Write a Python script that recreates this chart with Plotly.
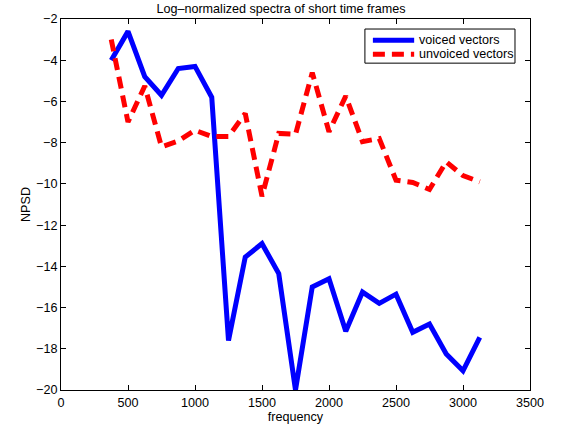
import plotly.graph_objects as go

freq = [375, 500, 625, 750, 875, 1000, 1125, 1250, 1375, 1500, 1625, 1750,
        1875, 2000, 2125, 2250, 2375, 2500, 2625, 2750, 2875, 3000, 3125]
voiced = [-4.0, -2.6, -4.8, -5.7, -4.4, -4.3, -5.8, -17.6, -13.55, -12.9, -14.35, -20.0,
          -15.0, -14.6, -17.15, -15.25, -15.8, -15.35, -17.2, -16.8, -18.25, -19.07, -17.45]
unvoiced = [-3.0, -7.0, -5.25, -8.2, -7.92, -7.4, -7.7, -7.7, -6.58, -10.6, -7.55, -7.6,
            -4.6, -7.47, -5.74, -7.95, -7.8, -9.82, -9.93, -10.27, -8.93, -9.6, -9.9]
series_names = ["voiced vectors", "unvoiced vectors"]
series_colors = ["#0000ff", "#ff0000"]
series_dash = ["solid", "12px,7px"]

x_ticks = [0, 500, 1000, 1500, 2000, 2500, 3000, 3500]
y_ticks = [-20, -18, -16, -14, -12, -10, -8, -6, -4, -2]

font = dict(family="Liberation Sans, Arial, sans-serif", size=12.6, color="black")

fig = go.Figure()
for ys, nm, col, dsh in zip([voiced, unvoiced], series_names, series_colors, series_dash):
    fig.add_trace(go.Scatter(x=freq, y=ys, mode="lines", name=nm, showlegend=False,
                             line=dict(color=col, width=5, dash=dsh)))

axis_common = dict(showgrid=False, zeroline=False, showline=True, linecolor="black",
                   linewidth=1, mirror="ticks", ticks="inside", ticklen=5,
                   tickcolor="black", tickfont=font, automargin=False)

# custom compact legend (MATLAB style) in paper coordinates
box = dict(x0=0.648, x1=0.968, y0=0.881, y1=0.973)
rows_y = [0.943, 0.905]
shapes = [dict(type="rect", xref="paper", yref="paper", **box,
               line=dict(color="black", width=1), fillcolor="white", layer="above")]
annotations = []
for ry, nm, col, dsh in zip(rows_y, series_names, series_colors, series_dash):
    shapes.append(dict(type="line", xref="paper", yref="paper", x0=0.665, x1=0.753,
                       y0=ry, y1=ry, layer="above",
                       line=dict(color=col, width=5, dash=dsh)))
    annotations.append(dict(xref="paper", yref="paper", x=0.759, y=ry, text=nm,
                            showarrow=False, xanchor="left", yanchor="middle",
                            font=font))

fig.update_layout(
    width=562, height=430,
    margin=dict(l=61, r=32, t=19, b=40),
    paper_bgcolor="white", plot_bgcolor="white",
    font=font,
    title=dict(text="Log\u2013normalized spectra of short time frames",
               x=0.5, xanchor="center", y=0.99, yanchor="top", font=font),
    xaxis=dict(range=[0, 3500], tickvals=x_ticks, ticklabelstandoff=1,
               title=dict(text="frequency", standoff=1, font=font), **axis_common),
    yaxis=dict(range=[-20, -2], tickvals=y_ticks,
               title=dict(text="NPSD", standoff=2, font=font), **axis_common),
    showlegend=False,
    shapes=shapes,
    annotations=annotations,
)

fig.write_html("out.html")
